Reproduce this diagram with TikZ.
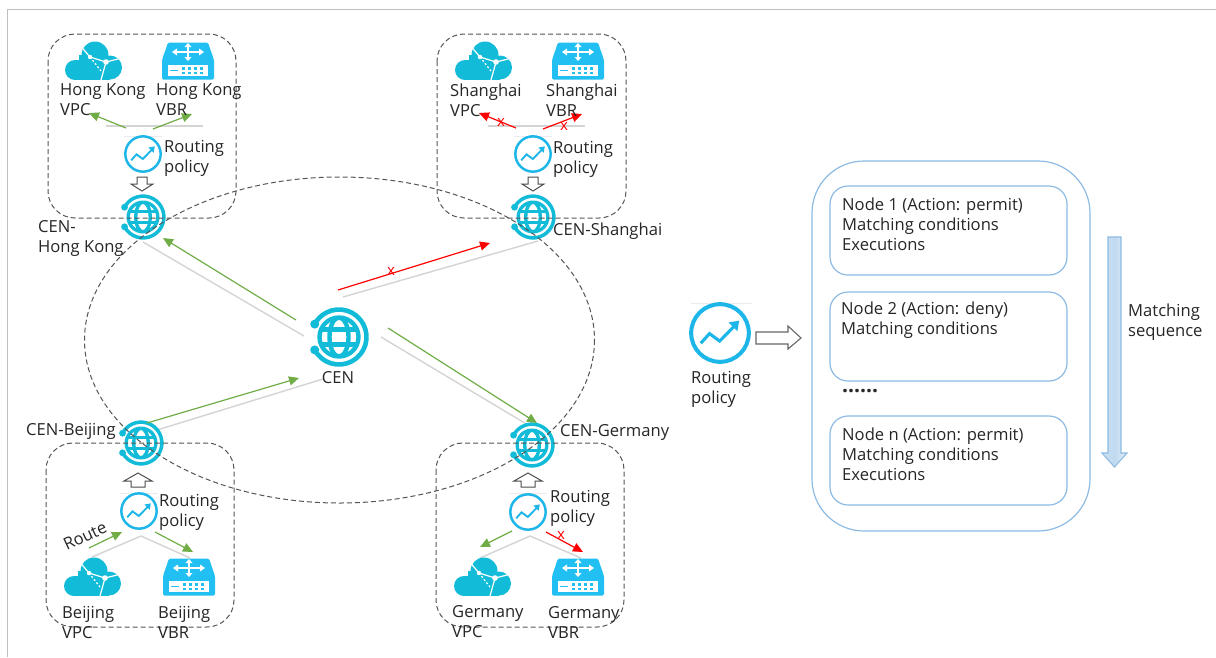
\documentclass[tikz,border=0pt]{standalone}
\usepackage{fontspec}
\setmainfont{Open Sans}
\usetikzlibrary{arrows.meta}
\definecolor{cenc}{HTML}{12BCD8}
\definecolor{vbrc}{HTML}{22C0F2}
\definecolor{polc}{HTML}{1DB6E8}
\definecolor{grn}{HTML}{70AD47}
\definecolor{linkg}{HTML}{D4D4D4}
\definecolor{dashc}{HTML}{555555}
\definecolor{boxb}{HTML}{8DBBE3}
\tikzset{
  lbl/.style={anchor=west,align=left,inner sep=0pt,text=black!85,font=\fontsize{16.6}{20}\selectfont},
  xmark/.style={inner sep=0pt,text=red,font=\fontsize{15}{15}\selectfont},
  grnarr/.style={draw=grn,line width=1.2pt,-{Triangle[length=10pt,width=9pt]}},
  redarr/.style={draw=red,line width=1.2pt,-{Triangle[length=10pt,width=9pt]}},
  link/.style={draw=linkg,line width=1.4pt},
  faint/.style={draw=black!8,line width=.7pt},
  dbox/.style={draw=dashc,line width=1pt,dash pattern=on 5pt off 3pt,rounded corners=27pt},
  bluebox/.style={draw=boxb,line width=1.2pt,fill=white},
  hollow/.style={draw=black!70,line width=1pt,fill=white,line join=miter},
  pics/cenicon/.style={code={
    \begin{scope}[scale=#1]
      \draw[cenc,line width=#1*4.6pt] (152:27.5) arc (152:-152:27.5);
      \fill[cenc] (152:27.5) circle (4.5);
      \fill[cenc] (-152:27.5) circle (4.5);
      \begin{scope}
        \clip (0,0) circle (20);
        \draw[cenc,line width=#1*4.4pt] (0,0) ellipse (9.5 and 19.5);
        \draw[cenc,line width=#1*4.4pt] (-20,-7.5) -- (20,-7.5) (-20,7.5) -- (20,7.5);
      \end{scope}
      \draw[cenc,line width=#1*4.4pt] (0,0) circle (19.5);
    \end{scope}}},
  pics/policy/.style={code={
    \begin{scope}[scale=#1]
      \draw[polc,line width=#1*.13pt,fill=white] (0,0) circle (.93);
      \draw[polc,line width=#1*.1pt,line join=miter] (-.62,.33) -- (-.34,.02) -- (-.01,.26) -- (.46,-.22);
      \fill[polc] (.62,-.4) -- (.56,-.06) -- (.28,-.34) -- cycle;
    \end{scope}}},
  pics/cloudicon/.style={code={
    \fill[cenc] (-18,9) circle (10);
    \fill[cenc] (2,-6) circle (13.5);
    \fill[cenc] (17,6.5) circle (12);
    \fill[cenc] (-18,-1) rectangle (17,19);
    \fill[cenc] (-14,-6) rectangle (14,5);
    \draw[white,line width=1.2pt] (-14,-17) -- (-3,-4) -- (13,1) -- (29,-3) (13,1) -- (8,19);
    \draw[white,line width=1.2pt,dash pattern=on 2pt off 2pt] (-3,-4) -- (8,10);
    \fill[white] (-3,-4) circle (2.2);
    \fill[white] (13,1) circle (2.8);
  }},
  pics/vbricon/.style={code={
    \fill[vbrc,rounded corners=1.5pt] (-20,-18.5) -- (20,-18.5) -- (26,-1) -- (26,18.5) -- (-26,18.5) -- (-26,-1) -- cycle;
    \draw[white,line width=1.5pt] (-12,-9) -- (12,-9) (0,-16) -- (0,-2);
    \fill[white] (-16,-9) -- (-11,-12.5) -- (-11,-5.5) -- cycle;
    \fill[white] (16,-9) -- (11,-12.5) -- (11,-5.5) -- cycle;
    \fill[white] (0,-18) -- (-3.5,-14) -- (3.5,-14) -- cycle;
    \fill[white] (0,0) -- (-3.5,-4) -- (3.5,-4) -- cycle;
    \fill[white] (-20,4) rectangle (20,15);
    \foreach \xx in {-6,0,6,12} {\fill[vbrc] (\xx,6) rectangle (\xx+3,8.5); \fill[vbrc] (\xx,10.5) rectangle (\xx+3,13);}
    \fill[vbrc] (-18,8.6) rectangle (-10,10);
  }}
}
\begin{document}
\begin{tikzpicture}[x=1pt,y=-1pt]
\useasboundingbox (0,0) rectangle (1216,657);
\fill[white] (0,0) rectangle (1216,657);
\draw[black!25,line width=1.3pt] (7.5,657) -- (7.5,9.5) -- (1216,9.5);

% named positions
\coordinate (hk) at (143,217);
\coordinate (sh) at (533,217);
\coordinate (bj) at (141,443);
\coordinate (de) at (532,445);
\coordinate (cen) at (339,337);
\coordinate (phk) at (143,154);
\coordinate (psh) at (533,154);
\coordinate (pbj) at (139,511);
\coordinate (pde) at (528,512);
\coordinate (pbig) at (720,333);

% central links (grey)
\coordinate (g1a) at (143,242); \coordinate (g1b) at (304,336);
\coordinate (g2a) at (343,297); \coordinate (g2b) at (538,241);
\coordinate (g3a) at (157,430); \coordinate (g3b) at (323,379);
\coordinate (g4a) at (381,337); \coordinate (g4b) at (528,425);
\draw[link] (g1a) -- (g1b);
\draw[link] (g2a) -- (g2b);
\draw[link] (g3a) -- (g3b);
\draw[link] (g4a) -- (g4b);

% local links (grey)
\coordinate (hka) at (106,126); \coordinate (hkb) at (203,126);
\coordinate (sha) at (488,126); \coordinate (shb) at (585,126);
\draw[link] (hka) -- (hkb);
\draw[link] (sha) -- (shb);
\coordinate (bjt) at (141,536); \coordinate (bja) at (92,557); \coordinate (bjb) at (190,558);
\coordinate (det) at (530,536); \coordinate (dea) at (480,558); \coordinate (deb) at (581,558);
\draw[link] (bja) -- (bjt) -- (bjb);
\draw[link] (dea) -- (det) -- (deb);

% faint rules over policy icons
\draw[faint] (124,136) -- (162,136);
\draw[faint] (514,136) -- (552,136);
\draw[faint] (120,493) -- (158,493);
\draw[faint] (509,493) -- (547,493);
\draw[faint] (691,303) -- (752,303);

% icons
\pic at (hk) {cenicon=.76};
\pic at (sh) {cenicon=.76};
\pic at (bj) {cenicon=.76};
\pic at (de) {cenicon=.76};
\pic at (cen) {cenicon=1};
\pic at (phk) {policy=19};
\pic at (psh) {policy=19};
\pic at (pbj) {policy=19};
\pic at (pde) {policy=19};
\pic at (pbig) {policy=31};
\pic at (93,61) {cloudicon};
\pic at (483,61) {cloudicon};
\pic at (92,577) {cloudicon};
\pic at (482,577) {cloudicon};
\pic at (188,61) {vbricon};
\pic at (578,61) {vbricon};
\pic at (189,577) {vbricon};
\pic at (578,577) {vbricon};

% hollow small arrows
\draw[hollow] (137,177) -- (147,177) -- (147,184) -- (153,184) -- (142,191) -- (131,184) -- (137,184) -- cycle;
\draw[hollow] (528,177) -- (538,177) -- (538,184) -- (544,184) -- (533,191) -- (522,184) -- (528,184) -- cycle;
\draw[hollow] (131,487) -- (145,487) -- (145,481) -- (152,481) -- (138,473) -- (124,481) -- (131,481) -- cycle;
\draw[hollow] (521,487) -- (535,487) -- (535,481) -- (542,481) -- (528,473) -- (514,481) -- (521,481) -- cycle;

% dashed frames
\draw[dbox] (48,34) rectangle (236,218);
\draw[dbox] (437,34) rectangle (626,218);
\draw[dbox] (46,443) rectangle (234,627);
\draw[dbox] (436,443) rectangle (624,627);
\draw[draw=dashc,line width=1pt,dash pattern=on 5pt off 3pt] (339.5,340) ellipse (255 and 163);

% arrows
\coordinate (a1a) at (296,320); \coordinate (a1b) at (163,238);
\coordinate (a2a) at (338,290); \coordinate (a2b) at (490,243);
\coordinate (a3a) at (147,423); \coordinate (a3b) at (299,378);
\coordinate (a4a) at (388,328); \coordinate (a4b) at (537,423);
\draw[grnarr] (a1a) -- (a1b);
\draw[redarr] (a2a) -- (a2b);
\draw[grnarr] (a3a) -- (a3b);
\draw[grnarr] (a4a) -- (a4b);
\coordinate (b1a) at (126,128); \coordinate (b1b) at (89,113);
\coordinate (b2a) at (153,129); \coordinate (b2b) at (192,114);
\draw[grnarr] (b1a) -- (b1b);
\draw[grnarr] (b2a) -- (b2b);
\coordinate (c1a) at (516,128); \coordinate (c1b) at (479,113);
\coordinate (c2a) at (543,129); \coordinate (c2b) at (582,114);
\draw[redarr] (c1a) -- (c1b);
\draw[redarr] (c2a) -- (c2b);
\coordinate (d1a) at (89,548); \coordinate (d1b) at (122,532);
\coordinate (d2a) at (155,532); \coordinate (d2b) at (193,552);
\draw[grnarr] (d1a) -- (d1b);
\draw[grnarr] (d2a) -- (d2b);
\coordinate (e1a) at (512,531); \coordinate (e1b) at (480,547);
\coordinate (e2a) at (546,532); \coordinate (e2b) at (583,552);
\draw[grnarr] (e1a) -- (e1b);
\draw[redarr] (e2a) -- (e2b);

% red x marks
\node[xmark] (x1) at (391,271) {x};
\node[xmark] (x2) at (501,122) {x};
\node[xmark] (x3) at (564,126) {x};
\node[xmark] (x4) at (561,535) {x};

% labels
\node[lbl] (t1) at (60,100) {Hong Kong\\VPC};
\node[lbl] (t2) at (156,100) {Hong Kong\\VBR};
\node[lbl] (t3) at (164,158) {Routing\\policy};
\node[lbl] (t4) at (450,100) {Shanghai\\VPC};
\node[lbl] (t5) at (546,100) {Shanghai\\VBR};
\node[lbl] (t6) at (553,159) {Routing\\policy};
\node[lbl] (t7) at (38,238) {CEN-\\Hong Kong};
\node[lbl] (t8) at (553,231) {CEN-Shanghai};
\node[lbl,anchor=center] (t9) at (338,378) {CEN};
\node[lbl] (t10) at (26,431) {CEN-Beijing};
\node[lbl] (t11) at (560,432) {CEN-Germany};
\node[lbl] (t12) at (159,512) {Routing\\policy};
\node[lbl] (t13) at (550,508) {Routing\\policy};
\node[lbl,anchor=center,rotate=25] (t14) at (85,536) {Route};
\node[lbl] (t15) at (62,622) {Beijing\\VPC};
\node[lbl] (t16) at (158,622) {Beijing\\VBR};
\node[lbl] (t17) at (452,622) {Germany\\VPC};
\node[lbl] (t18) at (548,622) {Germany\\VBR};

% right panel
\draw[hollow,draw=black!60,line width=1.1pt] (756,332) -- (788,332) -- (788,326) -- (801,338) -- (788,349) -- (788,344) -- (756,344) -- cycle;
\node[lbl] (t19) at (691,389) {Routing\\policy};
\draw[bluebox,rounded corners=52pt] (812,161) rectangle (1090,531);
\draw[bluebox,rounded corners=18pt] (830,186) rectangle (1067,275);
\draw[bluebox,rounded corners=18pt] (830,292) rectangle (1067,381);
\draw[bluebox,rounded corners=18pt] (830,416) rectangle (1067,505);
\node[lbl] (n1) at (842,224) {Node 1 (Action: permit)\\Matching conditions\\Executions};
\node[lbl] (n2) at (841,320) {Node 2 (Action: deny)\\Matching conditions};
\node[lbl,font=\fontsize{21}{20}\selectfont\bfseries] (dots) at (842,391) {......};
\node[lbl] (n3) at (842,454) {Node n (Action: permit)\\Matching conditions\\Executions};
\draw[draw=boxb,line width=1.1pt,left color=boxb!45,right color=boxb!25,middle color=boxb!55] (1108,237) -- (1121,237) -- (1121,453) -- (1127,453) -- (1114.5,467) -- (1102,453) -- (1108,453) -- cycle;
\node[lbl] (t20) at (1128,322) {Matching\\sequence};
\end{tikzpicture}
\end{document}
